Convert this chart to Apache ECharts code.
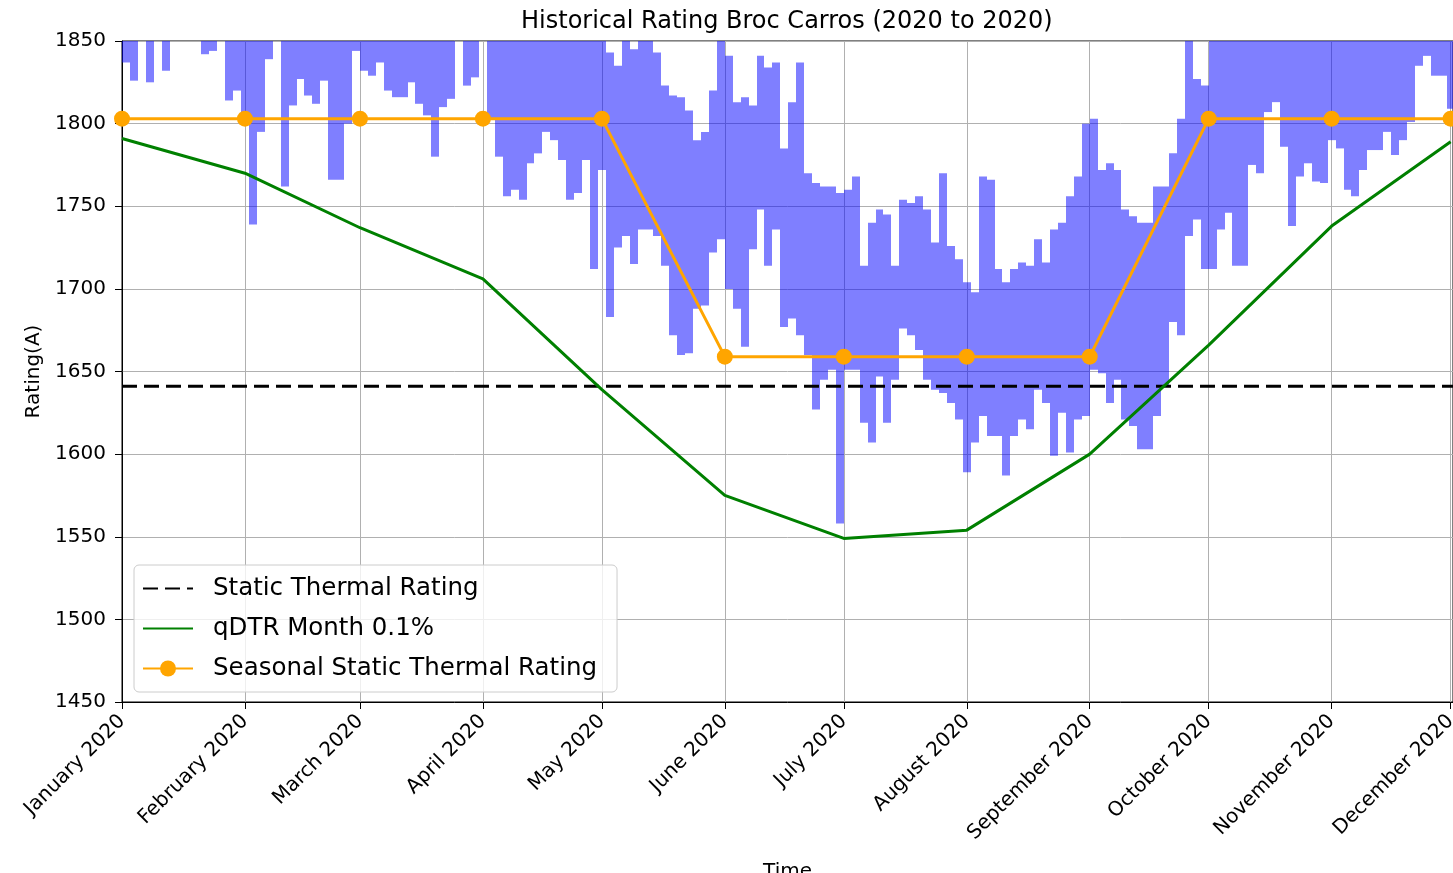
<!DOCTYPE html>
<html>
<head>
<meta charset="utf-8">
<title>Historical Rating Broc Carros</title>
<script src="https://cdn.jsdelivr.net/npm/echarts@6/dist/echarts.min.js"></script>
<style>
  html, body { margin: 0; padding: 0; background: #fff; }
  #chart { width: 1453px; height: 873px; }
</style>
</head>
<body>
<div id="chart"></div>
<script>
// month starts (day of year 2020) and their tick labels
const monthDays = [0, 31, 60, 91, 121, 152, 182, 213, 244, 274, 305, 335]
const monthLabels = ['January 2020', 'February 2020', 'March 2020', 'April 2020', 'May 2020', 'June 2020',
  'July 2020', 'August 2020', 'September 2020', 'October 2020', 'November 2020', 'December 2020']

// monthly lines
const qdtrMonth = [1791, 1770, 1737, 1706, 1639, 1575, 1549, 1554, 1600, 1666, 1738, 1789]
const seasonalRating = [1803, 1803, 1803, 1803, 1803, 1659, 1659, 1659, 1659, 1803, 1803, 1803]
const staticRating = 1641

// historical rating: low / high envelope for each 2-day block (values above 1850 are cut off)
const blueStep = 2
const blueLow = [
  1837, 1826, 1860, 1825, 1860, 1832, 1860, 1860, 1860, 1860,
  1842, 1844, 1860, 1814, 1820, 1800, 1739, 1795, 1839, 1860,
  1762, 1811, 1827, 1817, 1812, 1826, 1766, 1766, 1800, 1844,
  1832, 1829, 1837, 1820, 1816, 1816, 1825, 1812, 1805, 1780,
  1810, 1815, 1860, 1823, 1828, 1860, 1803, 1780, 1756, 1760,
  1754, 1776, 1782, 1795, 1790, 1778, 1754, 1758, 1778, 1712,
  1772, 1683, 1725, 1732, 1715, 1736, 1736, 1732, 1714, 1672,
  1660, 1661, 1688, 1690, 1722, 1730, 1700, 1688, 1665, 1724,
  1748, 1714, 1736, 1677, 1682, 1672, 1660, 1627, 1645, 1651,
  1558, 1651, 1651, 1619, 1607, 1647, 1619, 1645, 1676, 1672,
  1663, 1645, 1639, 1637, 1631, 1621, 1589, 1607, 1623, 1611,
  1611, 1587, 1611, 1621, 1615, 1639, 1631, 1599, 1625, 1601,
  1621, 1623, 1651, 1649, 1631, 1645, 1621, 1617, 1603, 1603,
  1623, 1641, 1680, 1672, 1732, 1742, 1712, 1712, 1736, 1746,
  1714, 1714, 1775, 1770, 1807, 1813, 1786, 1738, 1768, 1776,
  1765, 1764, 1790, 1785, 1760, 1756, 1772, 1784, 1784, 1795,
  1781, 1790, 1801, 1835, 1841, 1829, 1829, 1809
]
const blueHigh = [
  1900, 1900, 1900, 1900, 1900, 1900, 1900, 1900, 1900, 1900,
  1900, 1900, 1900, 1900, 1900, 1900, 1900, 1900, 1900, 1900,
  1900, 1900, 1900, 1900, 1900, 1900, 1900, 1900, 1900, 1900,
  1900, 1900, 1900, 1900, 1900, 1900, 1900, 1900, 1900, 1900,
  1900, 1900, 1900, 1900, 1900, 1900, 1900, 1900, 1900, 1900,
  1900, 1900, 1900, 1900, 1900, 1900, 1900, 1900, 1900, 1900,
  1900, 1843, 1835, 1855, 1845, 1852, 1852, 1843, 1823, 1817,
  1816, 1808, 1790, 1795, 1820, 1852, 1841, 1813, 1816, 1811,
  1841, 1834, 1837, 1785, 1813, 1837, 1770, 1764, 1762, 1762,
  1758, 1760, 1768, 1714, 1740, 1748, 1745, 1714, 1754, 1752,
  1756, 1748, 1728, 1770, 1726, 1718, 1704, 1698, 1768, 1766,
  1712, 1704, 1712, 1716, 1714, 1730, 1716, 1736, 1740, 1756,
  1768, 1800, 1803, 1772, 1776, 1772, 1748, 1744, 1740, 1740,
  1762, 1762, 1782, 1803, 1855, 1827, 1823, 1855, 1900, 1900,
  1900, 1900, 1900, 1900, 1900, 1900, 1900, 1900, 1900, 1900,
  1900, 1900, 1900, 1900, 1900, 1900, 1900, 1900, 1900, 1900,
  1900, 1900, 1900, 1900, 1900, 1900, 1900, 1900
]

const xMin = 0
const xMax = 335.6
const font = 'DejaVu Sans'

// [block start day, low, high]
let blueData = blueLow.map((lo, i) => [i * blueStep, lo, blueHigh[i]])
let qdtrData = monthDays.map((d, i) => [d, qdtrMonth[i]])
let seasonalData = monthDays.map((d, i) => [d, seasonalRating[i]])
let staticData = [[xMin, staticRating], [xMax, staticRating]]

// one rectangle per block, from low to high
function renderBlock(params, api) {
  let x0 = api.value(0)
  let p0 = api.coord([x0, api.value(2)])
  let p1 = api.coord([x0 + blueStep, api.value(1)])
  let left = Math.round(p0[0])
  let right = Math.round(p1[0])
  let rect = echarts.graphic.clipRectByRect(
    { x: left, y: p0[1], width: right - left, height: p1[1] - p0[1] },
    params.coordSys
  )
  if (!rect) return null
  return { type: 'rect', shape: rect, style: { fill: 'rgba(0,0,255,0.5)' } }
}

let chart = echarts.init(document.getElementById('chart'))
let option = {
  animation: false,
  backgroundColor: '#fff',
  title: {
    text: 'Historical Rating Broc Carros (2020 to 2020)',
    left: 516,
    top: 5,
    textStyle: { fontFamily: font, fontSize: 24, fontWeight: 'normal', color: '#000' }
  },
  legend: {
    left: 134,
    top: 565,
    orient: 'vertical',
    data: [
      { name: 'Static Thermal Rating', itemStyle: { opacity: 0 } },
      { name: 'qDTR Month 0.1%', itemStyle: { opacity: 0 } },
      { name: 'Seasonal Static Thermal Rating' }
    ],
    itemWidth: 50,
    itemHeight: 20,
    itemGap: 15,
    padding: [11, 20, 11, 8],
    borderColor: '#cccccc',
    borderWidth: 1,
    borderRadius: 5,
    backgroundColor: 'rgba(255,255,255,0.8)',
    textStyle: { fontFamily: font, fontSize: 24.5, color: '#000', lineHeight: 24, padding: [0, 0, 0, 15] }
  },
  grid: {
    left: 122, right: 0, top: 41, bottom: 171,
    outerBoundsMode: 'none',
    show: true, borderColor: '#000', borderWidth: 1
  },
  xAxis: {
    type: 'value',
    min: xMin,
    max: xMax,
    name: 'Time',
    nameLocation: 'middle',
    nameGap: 160,
    nameTextStyle: { fontFamily: font, fontSize: 20, color: '#000' },
    axisLine: { lineStyle: { color: '#000', width: 1 } },
    axisTick: { customValues: monthDays, length: 7, lineStyle: { color: '#000' } },
    axisLabel: {
      customValues: monthDays,
      rotate: 45,
      margin: 16,
      fontFamily: font,
      fontSize: 20,
      color: '#000',
      formatter: v => monthLabels[monthDays.indexOf(v)]
    },
    splitLine: { show: true, lineStyle: { color: '#b0b0b0', width: 1 } }
  },
  yAxis: {
    type: 'value',
    min: 1450,
    max: 1850,
    interval: 50,
    name: 'Rating(A)',
    nameLocation: 'middle',
    nameGap: 72,
    nameTextStyle: { fontFamily: font, fontSize: 20, color: '#000' },
    axisLine: { show: true, lineStyle: { color: '#000', width: 1 } },
    axisTick: { show: true, length: 7, lineStyle: { color: '#000' } },
    axisLabel: { margin: 16, fontFamily: font, fontSize: 20, color: '#000', formatter: v => String(v) },
    splitLine: { show: true, lineStyle: { color: '#b0b0b0', width: 1 } }
  },
  series: [
    {
      name: 'Historical Rating',
      type: 'custom',
      data: blueData,
      encode: { x: 0, y: [1, 2] },
      renderItem: renderBlock,
      silent: true
    },
    {
      name: 'Static Thermal Rating',
      type: 'line',
      data: staticData,
      symbol: 'none',
      lineStyle: { color: '#000', width: 3, type: [15, 7] },
      itemStyle: { color: '#000' }
    },
    {
      name: 'qDTR Month 0.1%',
      type: 'line',
      data: qdtrData,
      symbol: 'none',
      lineStyle: { color: '#008000', width: 3 },
      itemStyle: { color: '#008000' }
    },
    {
      name: 'Seasonal Static Thermal Rating',
      type: 'line',
      data: seasonalData,
      symbol: 'circle',
      symbolSize: 16,
      lineStyle: { color: '#ffa500', width: 3 },
      itemStyle: { color: '#ffa500' }
    }
  ]
}
chart.setOption(option)
</script>
</body>
</html>
